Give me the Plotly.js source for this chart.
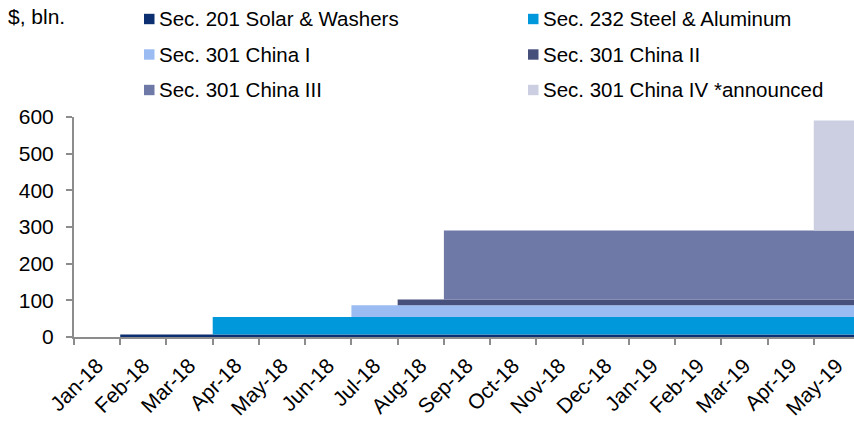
<!DOCTYPE html>
<html>
<head>
<meta charset="utf-8">
<script src="https://cdn.plot.ly/plotly-3.0.1.min.js"></script>
<style>
  html, body { margin: 0; padding: 0; background: #ffffff; }
  #chart { width: 854px; height: 422px; }
</style>
</head>
<body>
<div id="chart"></div>
<script>
// Monthly tariff coverage, $ bln, stacked by measure
const months = ['Jan-18','Feb-18','Mar-18','Apr-18','May-18','Jun-18','Jul-18','Aug-18','Sep-18',
                'Oct-18','Nov-18','Dec-18','Jan-19','Feb-19','Mar-19','Apr-19','May-19'];

const solarWashers = [0, 7, 7, 7, 7, 7, 7, 7, 7, 7, 7, 7, 7, 7, 7, 7, 7];
const steelAluminum = [0, 0, 0, 47.5, 47.5, 47.5, 47.5, 47.5, 47.5, 47.5, 47.5, 47.5, 47.5, 47.5, 47.5, 47.5, 47.5];
const chinaI   = [0, 0, 0, 0, 0, 0, 32, 32, 32, 32, 32, 32, 32, 32, 32, 32, 32];
const chinaII  = [0, 0, 0, 0, 0, 0, 0, 16, 16, 16, 16, 16, 16, 16, 16, 16, 16];
const chinaIII = [0, 0, 0, 0, 0, 0, 0, 0, 188, 188, 188, 188, 188, 188, 188, 188, 188];
const chinaIV  = [0, 0, 0, 0, 0, 0, 0, 0, 0, 0, 0, 0, 0, 0, 0, 0, 300];

const seriesNames = ['Sec. 201 Solar & Washers', 'Sec. 232 Steel & Aluminum', 'Sec. 301 China I',
                     'Sec. 301 China II', 'Sec. 301 China III', 'Sec. 301 China IV *announced'];
const seriesValues = [solarWashers, steelAluminum, chinaI, chinaII, chinaIII, chinaIV];
const seriesColors = ['#0b2f70', '#0098da', '#9abcf3', '#474f7b', '#6f79a7', '#cbcfe1'];

const FONT = 'Liberation Sans, Arial, sans-serif';

// x positions: one per month, plus one more so the last step runs to the edge
const xs = months.map((m, i) => i).concat([months.length]);

const traces = seriesValues.map((vals, k) => ({
  type: 'scatter',
  mode: 'lines',
  name: seriesNames[k],
  x: xs,
  y: vals.concat([vals[vals.length - 1]]),
  stackgroup: 'tariffs',
  line: { shape: 'hv', width: 0, color: seriesColors[k] },
  fillcolor: seriesColors[k],
  showlegend: false,
  hoverinfo: 'x+y+name'
}));

// plot frame in pixels (for placing the key outside the plot)
const M = { l: 74, r: 0, t: 117, b: 85 };
const W = 854, H = 422;
const plotW = W - M.l - M.r, plotH = H - M.t - M.b;
const px = x => (x - M.l) / plotW;
const py = y => (H - M.b - y) / plotH;

// two-column key: squares + labels
const keyCols = [144, 528];
const keyRows = [19, 54.5, 90];
const shapes = [];
const annotations = [];
seriesNames.forEach((name, k) => {
  const cx = keyCols[k % 2];
  const cy = keyRows[Math.floor(k / 2)];
  shapes.push({
    type: 'rect', xref: 'paper', yref: 'paper',
    x0: px(cx), x1: px(cx + 10.5), y0: py(cy + 5.2), y1: py(cy - 5.2),
    fillcolor: seriesColors[k], line: { width: 0 }
  });
  annotations.push({
    xref: 'paper', yref: 'paper', x: px(cx + 13), y: py(cy),
    xanchor: 'left', yanchor: 'middle', showarrow: false,
    text: name, font: { family: FONT, size: 20.5, color: '#000000' }
  });
});
annotations.push({
  xref: 'paper', yref: 'paper', x: px(6), y: py(16),
  xanchor: 'left', yanchor: 'middle', showarrow: false,
  text: '$, bln.', font: { family: FONT, size: 21, color: '#000000' }
});

const layout = {
  width: W, height: H,
  margin: M,
  paper_bgcolor: '#ffffff',
  plot_bgcolor: '#ffffff',
  showlegend: false,
  font: { family: FONT, size: 21, color: '#000000' },
  xaxis: {
    type: 'linear',
    range: [0, 16.87],
    tickvals: months.map((m, i) => i),
    ticktext: months,
    tickangle: -45,
    ticks: 'outside', ticklen: 6, tickwidth: 2, tickcolor: '#8c8c8c',
    showline: true, linecolor: '#8c8c8c', linewidth: 2,
    showgrid: false, zeroline: false,
    ticklabelshift: 23,
    ticklabelstandoff: 0,
    tickfont: { family: FONT, size: 21, color: '#000000' },
    fixedrange: true
  },
  yaxis: {
    range: [0, 600],
    dtick: 100,
    ticks: 'outside', ticklen: 6, tickwidth: 2, tickcolor: '#8c8c8c',
    showline: true, linecolor: '#8c8c8c', linewidth: 2,
    showgrid: false, zeroline: false,
    ticklabelstandoff: 8,
    tickfont: { family: FONT, size: 21, color: '#000000' },
    fixedrange: true
  },
  shapes: shapes,
  annotations: annotations
};

Plotly.newPlot('chart', traces, layout, { displayModeBar: false, staticPlot: true });
</script>
</body>
</html>
